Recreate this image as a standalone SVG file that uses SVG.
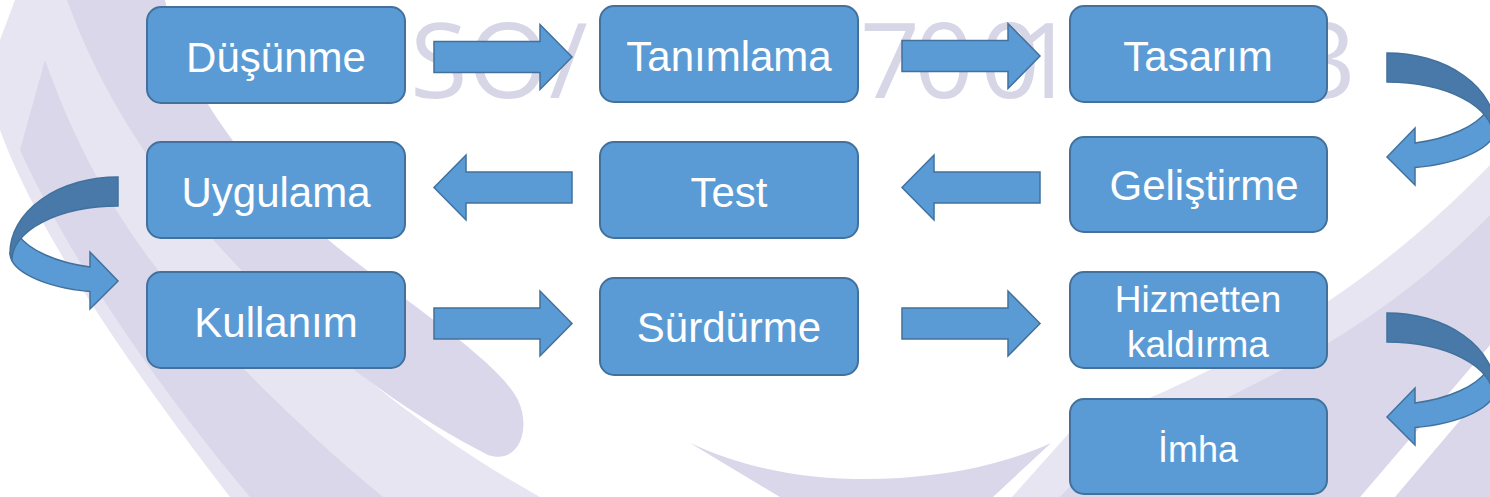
<svg xmlns="http://www.w3.org/2000/svg" xmlns:xlink="http://www.w3.org/1999/xlink" width="1490" height="497" viewBox="0 0 1490 497">
  <style>
    .swoosh { fill: #d9d7e9; }
    .swoosh-light { fill: #e6e5f1; }
    .mark { font-family: "Open Sans", "Liberation Sans", sans-serif; font-size: 105px; fill: #d7d6e6; }
    .box { fill: #5b9bd5; stroke: #41719c; stroke-width: 2; }
    .label { font-family: "Liberation Sans", Arial, sans-serif; font-size: 42px; fill: #ffffff; text-anchor: middle; }
    .label.small { font-size: 37px; }
    .arrow { fill: #5b9bd5; stroke: #41719c; stroke-width: 1.5; stroke-linejoin: miter; }
    .arrow-back { fill: #4879a9; stroke: #41719c; stroke-width: 1.5; }
  </style>
  <defs>
    <!-- block arrow, tail at origin, pointing right -->
    <path id="block-arrow" d="M0,-15.5 H106 V-32.5 L138,0 L106,32.5 V15.5 H0 Z"/>
    <!-- U-turn arrow: back band on top, front band with head returning to the left -->
    <g id="uturn">
      <path class="arrow" d="M108,76 A108,40 0 0 1 28,114.6 L28,132 L0,104 L28,75 L28,90 A106,50 0 0 0 100,57.6 Z"/>
      <path class="arrow-back" d="M0,0 A108,76 0 0 1 108,76 L106,83 A106,54 0 0 0 0,29 Z"/>
    </g>
  </defs>

  <rect width="1490" height="497" fill="#ffffff"/>

  <!-- background swooshes -->
  <g id="background">
    <path class="swoosh-light" d="M15,0 L100,0 C160,200 330,380 540,497 L230,497 C140,380 40,240 0,130 L0,40 Z"/>
    <path class="swoosh" d="M20,150 C70,260 160,390 250,497 L383,497 C290,420 200,330 143,250 C100,190 70,130 45,60 Z"/>
    <path class="swoosh" d="M67,0 L165,0 C185,95 260,190 360,265 C430,318 500,365 518,400 C532,430 518,465 488,455 C360,390 150,230 67,0 Z"/>
    <path class="swoosh" d="M690,443 C760,475 830,482 900,478 C960,474 1010,462 1051,443 L993,497 L780,497 Z"/>
    <path class="swoosh-light" d="M1012,497 L1070,432 C1180,385 1330,330 1490,165 L1490,345 L1360,497 Z"/>
    <path class="swoosh" d="M1060,497 L1100,455 C1200,410 1360,350 1490,215 L1490,345 L1360,497 Z"/>
    <path class="swoosh" d="M1395,497 L1490,385 L1490,497 Z"/>
  </g>

  <!-- watermark lettering, only the parts left uncovered by the boxes -->
  <g id="watermark">
    <text class="mark" x="410" y="98">SO/</text>
    <text class="mark" x="860 914 980 1016" y="98">7001</text>
    <text class="mark" x="1296" y="98">3</text>
  </g>

  <!-- connectors -->
  <g id="connectors">
    <use xlink:href="#block-arrow" class="arrow" transform="translate(434,57)"/>
    <use xlink:href="#block-arrow" class="arrow" transform="translate(902,56)"/>
    <use xlink:href="#block-arrow" class="arrow" transform="translate(1040,187.5) scale(-1,1)"/>
    <use xlink:href="#block-arrow" class="arrow" transform="translate(572,187.5) scale(-1,1)"/>
    <use xlink:href="#block-arrow" class="arrow" transform="translate(434,323.5)"/>
    <use xlink:href="#block-arrow" class="arrow" transform="translate(902,323.5)"/>
    <use xlink:href="#uturn" transform="translate(1387,53)"/>
    <use xlink:href="#uturn" transform="translate(118,177) scale(-1,1)"/>
    <use xlink:href="#uturn" transform="translate(1387,313)"/>
  </g>

  <!-- process steps -->
  <g id="node-dusunme">
    <rect class="box" x="147" y="7" width="258" height="96" rx="14"/>
    <text class="label" x="276" y="72">Düşünme</text>
  </g>
  <g id="node-tanimlama">
    <rect class="box" x="600" y="6" width="258" height="96" rx="14"/>
    <text class="label" x="729" y="71">Tanımlama</text>
  </g>
  <g id="node-tasarim">
    <rect class="box" x="1070" y="6" width="257" height="96" rx="14"/>
    <text class="label" x="1198" y="71">Tasarım</text>
  </g>
  <g id="node-gelistirme">
    <rect class="box" x="1070" y="137" width="257" height="95" rx="14"/>
    <text class="label" x="1204" y="200">Geliştirme</text>
  </g>
  <g id="node-test">
    <rect class="box" x="600" y="142" width="258" height="96" rx="14"/>
    <text class="label" x="729" y="207">Test</text>
  </g>
  <g id="node-uygulama">
    <rect class="box" x="147" y="142" width="258" height="96" rx="14"/>
    <text class="label" x="276" y="207">Uygulama</text>
  </g>
  <g id="node-kullanim">
    <rect class="box" x="147" y="272" width="258" height="96" rx="14"/>
    <text class="label" x="276" y="337">Kullanım</text>
  </g>
  <g id="node-surdurme">
    <rect class="box" x="600" y="278" width="258" height="97" rx="14"/>
    <text class="label" x="729" y="342">Sürdürme</text>
  </g>
  <g id="node-hizmetten-kaldirma">
    <rect class="box" x="1070" y="272" width="257" height="96" rx="14"/>
    <text class="label small" x="1198" y="312">Hizmetten</text>
    <text class="label small" x="1198" y="357">kaldırma</text>
  </g>
  <g id="node-imha">
    <rect class="box" x="1070" y="399" width="257" height="95" rx="14"/>
    <text class="label" x="1198" y="462" style="font-size:36px">İmha</text>
  </g>
</svg>
